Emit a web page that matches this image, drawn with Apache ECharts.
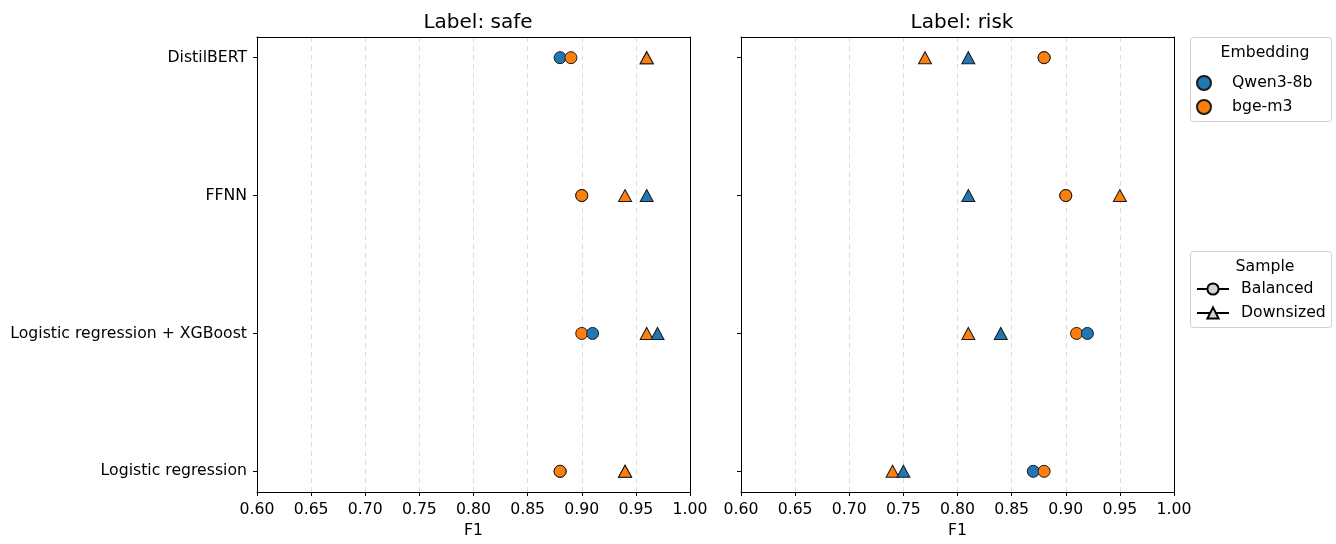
<!DOCTYPE html>
<html>
<head>
<meta charset="utf-8">
<script src="https://cdn.jsdelivr.net/npm/echarts@6/dist/echarts.min.js"></script>
<style>
  html, body { margin: 0; padding: 0; background: #fff; }
  #main { width: 1336px; height: 544px; }
</style>
</head>
<body>
<div id="main"></div>
<script>
// models, bottom to top
var models = ['Logistic regression', 'Logistic regression + XGBoost', 'FFNN', 'DistilBERT'];

// Label: safe
var safeQwenBalanced  = [0.88, 0.91, 0.90, 0.88];
var safeQwenDownsized = [0.94, 0.97, 0.96, 0.96];
var safeBgeBalanced   = [0.88, 0.90, 0.90, 0.89];
var safeBgeDownsized  = [0.94, 0.96, 0.94, 0.96];

// Label: risk
var riskQwenBalanced  = [0.87, 0.92, 0.90, 0.88];
var riskQwenDownsized = [0.75, 0.84, 0.81, 0.81];
var riskBgeBalanced   = [0.88, 0.91, 0.90, 0.88];
var riskBgeDownsized  = [0.74, 0.81, 0.95, 0.77];

var QWEN = '#1f77b4', BGE = '#ff7f0e';
var FONT = 'DejaVu Sans';
var FS = 15.7;

// one list of points per panel; larger value drawn later, orange over blue on ties
function buildPoints(qb, qd, bb, bd) {
  var pts = [];
  for (var i = 0; i < models.length; i++) {
    pts.push({ v: qb[i], y: i, c: QWEN, s: 'circle', o: 0 });
    pts.push({ v: qd[i], y: i, c: QWEN, s: 'triangle', o: 0 });
    pts.push({ v: bb[i], y: i, c: BGE, s: 'circle', o: 1 });
    pts.push({ v: bd[i], y: i, c: BGE, s: 'triangle', o: 1 });
  }
  pts.sort(function (a, b) { return (a.v - b.v) || (a.o - b.o); });
  return pts.map(function (p) {
    return {
      value: [p.v, p.y],
      symbol: p.s,
      symbolSize: p.s === 'circle' ? 12 : [13, 12],
      itemStyle: { color: p.c, borderColor: '#1a1a1a', borderWidth: 1, opacity: 1 }
    };
  });
}

function xAxis(idx) {
  return {
    type: 'value', gridIndex: idx, min: 0.6, max: 1.0, interval: 0.05,
    name: 'F1', nameLocation: 'middle', nameGap: 31,
    nameTextStyle: { color: '#000', fontSize: FS, fontFamily: FONT },
    axisLine: { show: true, onZero: false, lineStyle: { color: '#000' } },
    axisTick: { show: true, length: 4, lineStyle: { color: '#000' } },
    axisLabel: { color: '#000', fontSize: FS, fontFamily: FONT, margin: 10,
      formatter: function (v) { return v.toFixed(2); } },
    splitLine: { show: true, lineStyle: { color: '#dcdcdc', type: [5, 4], width: 1 } }
  };
}

function yAxis(idx, showLabels) {
  return {
    type: 'value', gridIndex: idx, min: -0.15, max: 3.15,
    axisLine: { show: true, onZero: false, lineStyle: { color: '#000' } },
    axisTick: { show: true, length: 4, customValues: [0, 1, 2, 3], lineStyle: { color: '#000' } },
    axisLabel: { show: showLabels, customValues: [0, 1, 2, 3], color: '#000', fontSize: FS, fontFamily: FONT, margin: 10,
      formatter: function (v) { return models[Math.round(v)]; } },
    splitLine: { show: false }
  };
}

// plain frame lines for the top and right sides
function frameAxis(idx, pos) {
  return {
    type: 'value', gridIndex: idx, position: pos, min: 0, max: 1,
    axisLine: { show: true, onZero: false, lineStyle: { color: '#000' } },
    axisTick: { show: false }, axisLabel: { show: false }, splitLine: { show: false }
  };
}

var legendText = {
  color: '#000', fontSize: FS, fontFamily: FONT, lineHeight: 14,
  rich: { t: { fontSize: FS, fontFamily: FONT, color: '#000', padding: [0, 0, 0, 7] } }
};

var option = {
  animation: false,
  backgroundColor: '#fff',
  textStyle: { fontFamily: FONT },
  title: [
    { text: 'Label: safe', left: 473, top: 8, textAlign: 'center',
      textStyle: { fontSize: 20, fontWeight: 'normal', color: '#000', fontFamily: FONT } },
    { text: 'Label: risk', left: 957, top: 8, textAlign: 'center',
      textStyle: { fontSize: 20, fontWeight: 'normal', color: '#000', fontFamily: FONT } },
    { text: 'Embedding', left: 1260, top: 40, textAlign: 'center',
      textStyle: { fontSize: FS, fontWeight: 'normal', color: '#000', fontFamily: FONT } },
    { text: 'Sample', left: 1260, top: 254, textAlign: 'center',
      textStyle: { fontSize: FS, fontWeight: 'normal', color: '#000', fontFamily: FONT } }
  ],
  graphic: [
    { type: 'rect', left: 1190, top: 37, shape: { width: 141, height: 84, r: 3 },
      style: { fill: '#fff', stroke: '#d0d0d0', lineWidth: 1 }, z: -1 },
    { type: 'rect', left: 1190, top: 251, shape: { width: 141, height: 76, r: 3 },
      style: { fill: '#fff', stroke: '#d0d0d0', lineWidth: 1 }, z: -1 }
  ],
  grid: [
    { left: 257, right: 646, top: 37, bottom: 48 },
    { left: 741, right: 162, top: 37, bottom: 48 }
  ],
  xAxis: [xAxis(0), xAxis(1), frameAxis(0, 'top'), frameAxis(1, 'top')],
  yAxis: [yAxis(0, true), yAxis(1, false), frameAxis(0, 'right'), frameAxis(1, 'right')],
  legend: [
    {
      data: ['Qwen3-8b', 'bge-m3'], orient: 'vertical', left: 1196, top: 75,
      padding: 0, itemGap: 8, itemWidth: 32, itemHeight: 14,
      formatter: '{t|{name}}', textStyle: legendText
    },
    {
      data: ['Balanced', 'Downsized'], orient: 'vertical', left: 1196, top: 281,
      padding: 0, itemGap: 8, itemWidth: 32, itemHeight: 14,
      formatter: '{t|{name}}', textStyle: legendText
    }
  ],
  series: [
    { type: 'scatter', xAxisIndex: 0, yAxisIndex: 0, z: 3,
      data: buildPoints(safeQwenBalanced, safeQwenDownsized, safeBgeBalanced, safeBgeDownsized) },
    { type: 'scatter', xAxisIndex: 1, yAxisIndex: 1, z: 3,
      data: buildPoints(riskQwenBalanced, riskQwenDownsized, riskBgeBalanced, riskBgeDownsized) },
    // legend-only series
    { name: 'Qwen3-8b', type: 'scatter', xAxisIndex: 1, yAxisIndex: 1, data: [], symbol: 'circle', symbolSize: 12,
      itemStyle: { color: QWEN, borderColor: '#1a1a1a', borderWidth: 1, opacity: 1 } },
    { name: 'bge-m3', type: 'scatter', xAxisIndex: 1, yAxisIndex: 1, data: [], symbol: 'circle', symbolSize: 12,
      itemStyle: { color: BGE, borderColor: '#1a1a1a', borderWidth: 1, opacity: 1 } },
    { name: 'Balanced', type: 'line', xAxisIndex: 1, yAxisIndex: 1, data: [], symbol: 'circle', symbolSize: 12,
      lineStyle: { color: '#000', width: 1.5 },
      itemStyle: { color: '#d3d3d3', borderColor: '#000', borderWidth: 1 } },
    { name: 'Downsized', type: 'line', xAxisIndex: 1, yAxisIndex: 1, data: [], symbol: 'triangle', symbolSize: 13,
      lineStyle: { color: '#000', width: 1.5 },
      itemStyle: { color: '#d3d3d3', borderColor: '#000', borderWidth: 1 } }
  ]
};

var chart = echarts.init(document.getElementById('main'));
chart.setOption(option);
</script>
</body>
</html>
